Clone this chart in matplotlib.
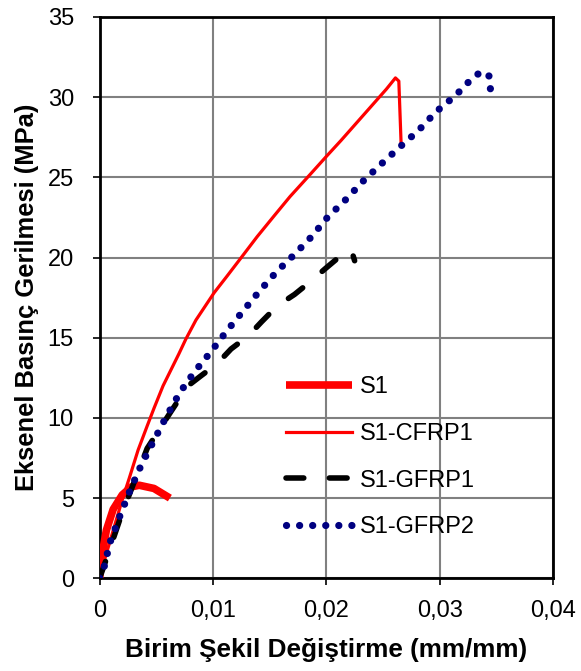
"""
Eksenel basınç gerilmesi - birim şekil değiştirme eğrileri (S1 serisi)
"""
import matplotlib
matplotlib.use('Agg')
import matplotlib.pyplot as plt

plt.rcParams['font.family'] = ['Liberation Sans', 'DejaVu Sans']

# S1 (sargısız)
s1_x = [0, 0.0002, 0.0006, 0.0012, 0.002, 0.0028, 0.0035, 0.0048, 0.0062]
s1_y = [0, 1.4, 3.0, 4.3, 5.2, 5.7, 5.8, 5.6, 5.0]

# S1-CFRP1
cfrp1_x = [0, 0.0005, 0.001, 0.0015, 0.002, 0.0026, 0.0034, 0.0042, 0.0048,
           0.0056, 0.0063, 0.0070, 0.0076, 0.0085, 0.0101, 0.0112, 0.0125,
           0.0139, 0.0154, 0.0168, 0.0186, 0.0200, 0.0213, 0.0228, 0.0243,
           0.0253, 0.0261, 0.0264, 0.0266]
cfrp1_y = [0, 1.3, 2.5, 3.7, 4.9, 6.2, 8.0, 9.5, 10.6,
           12.0, 13.0, 14.0, 14.9, 16.1, 17.8, 18.8, 20.0,
           21.3, 22.6, 23.8, 25.2, 26.3, 27.3, 28.5, 29.7,
           30.5, 31.2, 31.0, 27.1]

# S1-GFRP1
gfrp1_x = [0, 0.0005, 0.0019, 0.0042, 0.0063, 0.0078, 0.0089, 0.0104, 0.0116,
           0.0131, 0.0143, 0.0157, 0.0172, 0.0186, 0.0199, 0.0215, 0.0222, 0.0225]
gfrp1_y = [0, 1.0, 3.9, 8.1, 10.4, 12.0, 12.6, 13.4, 14.3,
           15.1, 16.0, 17.0, 17.7, 18.5, 19.3, 20.25, 20.5, 19.8]

# S1-GFRP2
gfrp2_x = [0, 0.0003, 0.0009, 0.0018, 0.0027, 0.0037, 0.0048, 0.0059, 0.0071,
           0.0084, 0.0098, 0.0112, 0.0127, 0.0141, 0.0156, 0.0172, 0.0187,
           0.0201, 0.0217, 0.0233, 0.0248, 0.0265, 0.0281, 0.0297, 0.0314,
           0.0329, 0.0337, 0.0344, 0.0345]
gfrp2_y = [0, 0.4, 2.2, 3.9, 5.5, 7.1, 8.6, 10.1, 11.6,
           12.9, 14.1, 15.4, 16.7, 17.9, 19.1, 20.2, 21.3,
           22.5, 23.6, 24.8, 25.8, 26.9, 27.9, 29.1, 30.1,
           31.2, 31.6, 31.3, 30.3]

xticks = [0, 0.01, 0.02, 0.03, 0.04]
xtick_labels = ['0', '0,01', '0,02', '0,03', '0,04']
yticks = [0, 5, 10, 15, 20, 25, 30, 35]

fig = plt.figure(figsize=(5.81, 6.71), dpi=100)
ax = fig.add_axes([0.1714, 0.1382, 0.7804, 0.8365])

ax.plot(s1_x, s1_y, color='red', lw=5.5, solid_capstyle='butt', label='S1', zorder=3)
ax.plot(cfrp1_x, cfrp1_y, color='red', lw=2.3, label='S1-CFRP1', zorder=4)
ax.plot(gfrp1_x, gfrp1_y, color='black', lw=4.0, linestyle=(0, (3.2, 4.6)),
        dash_capstyle='round', label='S1-GFRP1', zorder=5)
ax.plot(gfrp2_x, gfrp2_y, color='#000080', lw=5.2, linestyle=(0, (0.01, 1.8)),
        dash_capstyle='round', label='S1-GFRP2', zorder=6)

ax.set_xlim(0, 0.04)
ax.set_ylim(0, 35)
ax.set_xticks(xticks)
ax.set_xticklabels(xtick_labels)
ax.set_yticks(yticks)
ax.tick_params(labelsize=17, length=5, width=1.2, direction='out')
ax.tick_params(axis='x', pad=10.5)
ax.tick_params(axis='y', pad=13.5)
ax.grid(True, color='#808080', lw=1.5)
ax.set_axisbelow(True)
for s in ax.spines.values():
    s.set_linewidth(2.0)
    s.set_color('black')

ax.set_xlabel('Birim Şekil Değiştirme (mm/mm)', fontsize=18.8, fontweight='bold', labelpad=12)
ax.set_ylabel('Eksenel Basınç Gerilmesi (MPa)', fontsize=18.4, fontweight='bold', labelpad=6)

ax.legend(loc='upper left', bbox_to_anchor=(0.39, 0.377), frameon=False, fontsize=17,
          handlelength=2.8, handletextpad=0.35, labelspacing=1.05, borderaxespad=0)

fig.savefig('out.png', dpi=100)
